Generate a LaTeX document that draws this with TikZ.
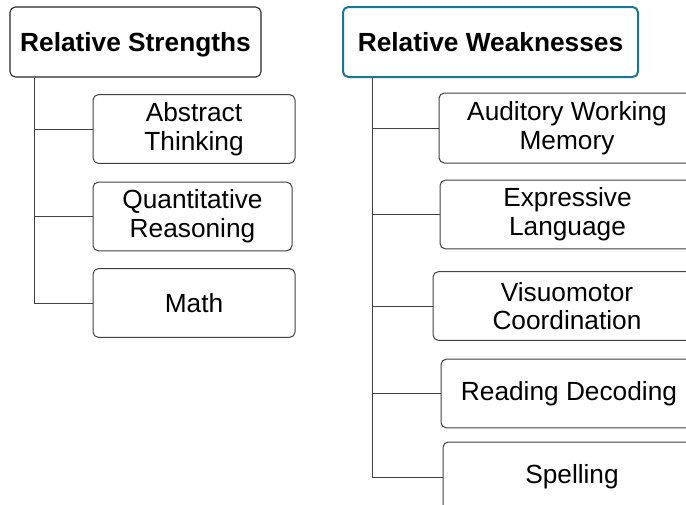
\documentclass[tikz,border=0pt]{standalone}
\usepackage{fontspec}
\setmainfont{Liberation Sans}
\usetikzlibrary{positioning}
\usepackage{xcolor}
\definecolor{headteal}{RGB}{22,120,150}
\definecolor{linegray}{RGB}{64,64,64}

\begin{document}
\begin{tikzpicture}[
        x=0.75pt, y=-0.75pt,
        header/.style={
            rectangle,
            draw=black!85,
            line width=0.8pt,
            fill=white,
            rounded corners=4pt,
            minimum height=52.5pt,
            text height=14.1pt,
            text depth=0pt,
            inner sep=0pt,
            align=center,
            font=\fontsize{19.7}{22}\selectfont\bfseries
        },
        item/.style={
            rectangle,
            draw=linegray,
            line width=0.75pt,
            fill=white,
            rounded corners=4pt,
            minimum height=51.5pt,
            inner sep=0pt,
            align=center,
            font=\fontsize{19.7}{21.5}\selectfont
        },
        link/.style={linegray, line width=0.75pt}
    ]

    \useasboundingbox (0,0) rectangle (686,504);
    \clip (0,0) rectangle (686,504);

    % --- STRENGTHS ---
    \node (strengths) [header, minimum width=188.25pt] at (135.5,42) {Relative Strengths};

    \node (abstract) [item, minimum width=151.5pt] at (194,129) {Abstract\\Thinking};
    \node (quant) [item, minimum width=149.25pt] at (192.5,216.5) {Quantitative\\Reasoning};
    \node (math) [item, minimum width=151.5pt] at (194,303) {Math};

    % --- WEAKNESSES ---
    \node (weak) [header, draw=headteal, line width=1.5pt, minimum width=221.25pt] at (490.5,42) {Relative Weaknesses};

    \node (audit) [item, minimum width=192pt, minimum height=52.5pt] at (567,128) {Auditory Working\\Memory};
    \node (expr) [item, minimum width=191.25pt] at (567.5,214.5) {Expressive\\Language};
    \node (visuo) [item, minimum width=201pt] at (567,306) {Visuomotor\\Coordination};
    \node (read) [item, minimum width=192pt] at (569,393.5) {Reading Decoding};
    \node (spell) [item, minimum width=193.5pt, minimum height=52.5pt] at (572,477) {Spelling};

    % --- LINKS ---
    \draw [link] ([xshift=18.75pt]strengths.south west) |- (abstract.west);
    \draw [link] ([xshift=18.75pt]strengths.south west) |- (quant.west);
    \draw [link] ([xshift=18.75pt]strengths.south west) |- (math.west);

    \draw [link] ([xshift=22.5pt]weak.south west) |- (audit.west);
    \draw [link] ([xshift=22.5pt]weak.south west) |- (expr.west);
    \draw [link] ([xshift=22.5pt]weak.south west) |- (visuo.west);
    \draw [link] ([xshift=22.5pt]weak.south west) |- (read.west);
    \draw [link] ([xshift=22.5pt]weak.south west) |- (spell.west);

\end{tikzpicture}
\end{document}
